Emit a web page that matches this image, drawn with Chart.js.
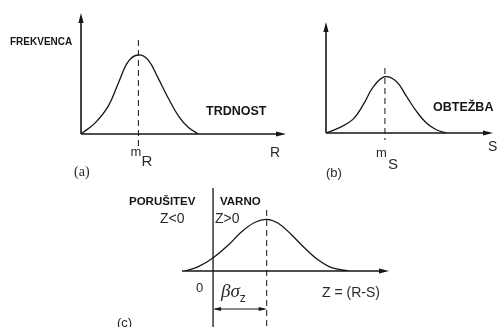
<!DOCTYPE html>
<html>
<head>
<meta charset="utf-8">
<script src="https://cdn.jsdelivr.net/npm/chart.js@4.4.1/dist/chart.umd.min.js"></script>
<style>
  html, body { margin: 0; padding: 0; background: #fff; }
  #wrap { position: relative; width: 497px; height: 327px; }
  canvas { position: absolute; left: 0; top: 0; }
</style>
</head>
<body>
<div id="wrap">
  <canvas id="chartA" width="497" height="327"></canvas>
  <canvas id="chartB" width="497" height="327"></canvas>
  <canvas id="chartC" width="497" height="327"></canvas>
</div>
<script>
// (a) strength R
const strengthX = [0, 0.68, 1.33, 1.82, 2.31, 2.80, 3.28, 3.77, 4.26, 4.75, 5.23, 5.72];
const strengthY = [0, 0.90, 2.30, 4.20, 6.00, 6.53, 6.10, 4.60, 2.95, 1.50, 0.55, 0];
const strengthMean = 2.80;

// (b) load S
const loadX = [0, 0.84, 1.63, 2.23, 2.83, 3.53, 4.23, 4.83, 5.43, 6.03, 6.63, 7.23];
const loadY = [0, 0.50, 1.25, 2.55, 4.15, 5.07, 4.62, 3.27, 1.92, 0.87, 0.27, 0];
const loadMean = 3.53;

// (c) margin Z = R - S
const marginX = [-1.36, -0.71, 0.01, 0.74, 1.38, 2.03, 2.59, 3.15, 3.80, 4.44, 5.08, 5.73, 6.53];
const marginY = [0, 0.52, 1.60, 3.13, 4.73, 5.87, 6.23, 5.75, 4.34, 2.73, 1.33, 0.40, 0];
const marginMean = 2.59;

const INK = "#161616";
const SOFT = "#2a2a2a";
const SANS = "'Liberation Sans', Arial, sans-serif";

function toPoints(xs, ys) {
  return xs.map((x, i) => ({ x, y: ys[i] }));
}

function line(ctx, x1, y1, x2, y2, width, dash) {
  ctx.save();
  ctx.strokeStyle = INK;
  ctx.lineWidth = width;
  ctx.setLineDash(dash || []);
  ctx.beginPath();
  ctx.moveTo(x1, y1);
  ctx.lineTo(x2, y2);
  ctx.stroke();
  ctx.restore();
}

// filled arrow head, tip at (x,y), pointing along (dx,dy)
function arrowHead(ctx, x, y, dx, dy, len, half) {
  len = len || 10;
  half = half || 2.6;
  ctx.save();
  ctx.fillStyle = INK;
  ctx.beginPath();
  ctx.moveTo(x, y);
  ctx.lineTo(x - dx * len - dy * half, y - dy * len + dx * half);
  ctx.lineTo(x - dx * len + dy * half, y - dy * len - dx * half);
  ctx.closePath();
  ctx.fill();
  ctx.restore();
}

function text(ctx, str, x, y, font, color) {
  ctx.save();
  ctx.font = font;
  ctx.fillStyle = color || INK;
  ctx.textAlign = "left";
  ctx.textBaseline = "alphabetic";
  ctx.fillText(str, x, y);
  const w = ctx.measureText(str).width;
  ctx.restore();
  return w;
}

function makeChart(id, xs, ys, xRange, yRange, padding, decorate) {
  return new Chart(document.getElementById(id), {
    type: "line",
    data: {
      datasets: [{
        data: toPoints(xs, ys),
        borderColor: INK,
        borderWidth: 1.3,
        pointRadius: 0,
        fill: false,
        tension: 0.4
      }]
    },
    options: {
      responsive: false,
      animation: false,
      events: [],
      layout: { padding },
      plugins: { legend: { display: false }, tooltip: { enabled: false } },
      scales: {
        x: { type: "linear", min: xRange[0], max: xRange[1], display: false },
        y: { type: "linear", min: yRange[0], max: yRange[1], display: false }
      }
    },
    plugins: [{
      id: "sketch",
      afterDatasetsDraw(chart) {
        decorate(chart.ctx, chart.scales.x, chart.scales.y, chart.chartArea);
      }
    }]
  });
}

// ---- (a) ----
makeChart("chartA", strengthX, strengthY, [0, 10], [0, 10],
  { left: 81, right: 211, top: 13, bottom: 193 },
  (ctx, x, y, area) => {
    const x0 = x.getPixelForValue(0), y0 = y.getPixelForValue(0);
    const mx = x.getPixelForValue(strengthMean);
    line(ctx, x0, y0, x0, area.top + 6, 1.6);
    arrowHead(ctx, x0, area.top, 0, -1);
    line(ctx, x0, y0, area.right - 6, y0, 1.6);
    arrowHead(ctx, area.right, y0, 1, 0);
    line(ctx, mx, 40, mx, y0 + 14, 1, [6, 4]);

    text(ctx, "FREKVENCA", 10, 45, "bold 10px " + SANS);
    text(ctx, "TRDNOST", 206, 115, "bold 12.5px " + SANS);
    text(ctx, "R", 270, 157, "14px " + SANS, SOFT);
    text(ctx, "m", mx - 8, 156, "13px " + SANS, SOFT);
    text(ctx, "R", mx + 3, 166, "15px " + SANS, SOFT);
    text(ctx, "(a)", 74, 176, "14px 'Liberation Serif', serif", SOFT);
  });

// ---- (b) ----
makeChart("chartB", loadX, loadY, [0, 10], [0, 10],
  { left: 326, right: 4, top: 22, bottom: 194 },
  (ctx, x, y, area) => {
    const x0 = x.getPixelForValue(0), y0 = y.getPixelForValue(0);
    const mx = x.getPixelForValue(loadMean);
    line(ctx, x0, y0, x0, area.top + 6, 1.6);
    arrowHead(ctx, x0, area.top, 0, -1);
    line(ctx, x0, y0, area.right - 6, y0, 1.6);
    arrowHead(ctx, area.right, y0, 1, 0);
    line(ctx, mx, 68, mx, y0 + 7, 1, [6, 4]);

    text(ctx, "OBTEŽBA", 433, 111, "bold 12.5px " + SANS);
    text(ctx, "S", 488, 151, "14px " + SANS, SOFT);
    text(ctx, "m", mx - 9, 157, "13px " + SANS, SOFT);
    text(ctx, "S", mx + 3, 169, "15px " + SANS, SOFT);
    text(ctx, "(b)", 326, 177, "13px " + SANS, SOFT);
  });

// ---- (c) ----
makeChart("chartC", marginX, marginY, [-1.5, 8.5], [0, 10],
  { left: 182, right: 108, top: 188, bottom: 56 },
  (ctx, x, y, area) => {
    const zx = x.getPixelForValue(0), y0 = y.getPixelForValue(0);
    const mx = x.getPixelForValue(marginMean);
    const bottom = ctx.canvas.height;
    line(ctx, area.left, y0, area.right - 6, y0, 1.5);
    arrowHead(ctx, area.right, y0, 1, 0);
    line(ctx, zx, area.top, zx, bottom, 1.3);
    line(ctx, mx, 210, mx, bottom, 1, [6, 4]);

    // beta*sigma_z dimension
    const ay = 309;
    line(ctx, zx + 2, ay, mx - 2, ay, 1);
    arrowHead(ctx, zx, ay, -1, 0, 8, 2);
    arrowHead(ctx, mx, ay, 1, 0, 8, 2);

    text(ctx, "PORUŠITEV", 129, 205, "bold 11.5px " + SANS);
    text(ctx, "VARNO", 220, 205, "bold 11.5px " + SANS);
    text(ctx, "Z<0", 160, 223, "14px " + SANS, SOFT);
    text(ctx, "Z>0", 215, 223, "14px " + SANS, SOFT);
    text(ctx, "0", 196, 292, "13px " + SANS, SOFT);
    const bw = text(ctx, "βσ", 221, 297, "italic 19px 'Liberation Serif', serif", SOFT);
    text(ctx, "z", 221 + bw, 302, "12px " + SANS, SOFT);
    text(ctx, "Z = (R-S)", 322, 297, "14px " + SANS, SOFT);
    text(ctx, "(c)", 117, 327, "13px " + SANS, SOFT);
  });
</script>
</body>
</html>
